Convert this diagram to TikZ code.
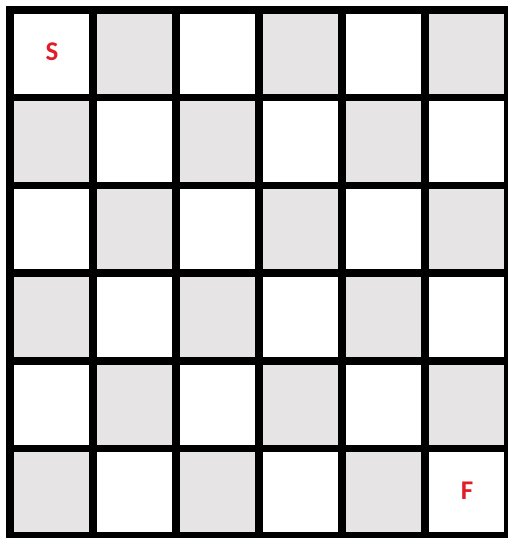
\documentclass[tikz,border=0pt]{standalone}
\usepackage{fontspec}
\newfontfamily\labelfont{Carlito}
\definecolor{cellgray}{RGB}{230,228,228}
\definecolor{labelred}{RGB}{225,30,40}
\tikzset{
  gridline/.style={line width=7.5pt, black, line cap=rect},
  cellfill/.style={fill=cellgray, draw=none},
  marklabel/.style={text=labelred, font=\labelfont\bfseries\fontsize{27}{27}\selectfont, inner sep=0pt}
}
\begin{document}
\begin{tikzpicture}[x=1pt,y=-1pt]
\useasboundingbox (0,0) rectangle (508,538);
\fill[white] (0,0) rectangle (508,538);
\foreach \i in {0,...,5}{
  \foreach \j in {0,...,5}{
    \pgfmathtruncatemacro{\cellpar}{mod(\i+\j,2)}
    \ifnum\cellpar=1
      \path[cellfill] ({10+83*\i},{10+87.7*\j}) rectangle ({10+83*(\i+1)},{10+87.7*(\j+1)});
    \fi
  }
}
\foreach \i in {0,...,6}{
  \draw[gridline] ({10+83*\i},10) -- ({10+83*\i},536.2);
}
\foreach \j in {0,...,6}{
  \draw[gridline] (10,{10+87.7*\j}) -- (508,{10+87.7*\j});
}
\node[marklabel] (start) at (52,52) {S};
\node[marklabel] (finish) at (467,491) {F};
\end{tikzpicture}
\end{document}
